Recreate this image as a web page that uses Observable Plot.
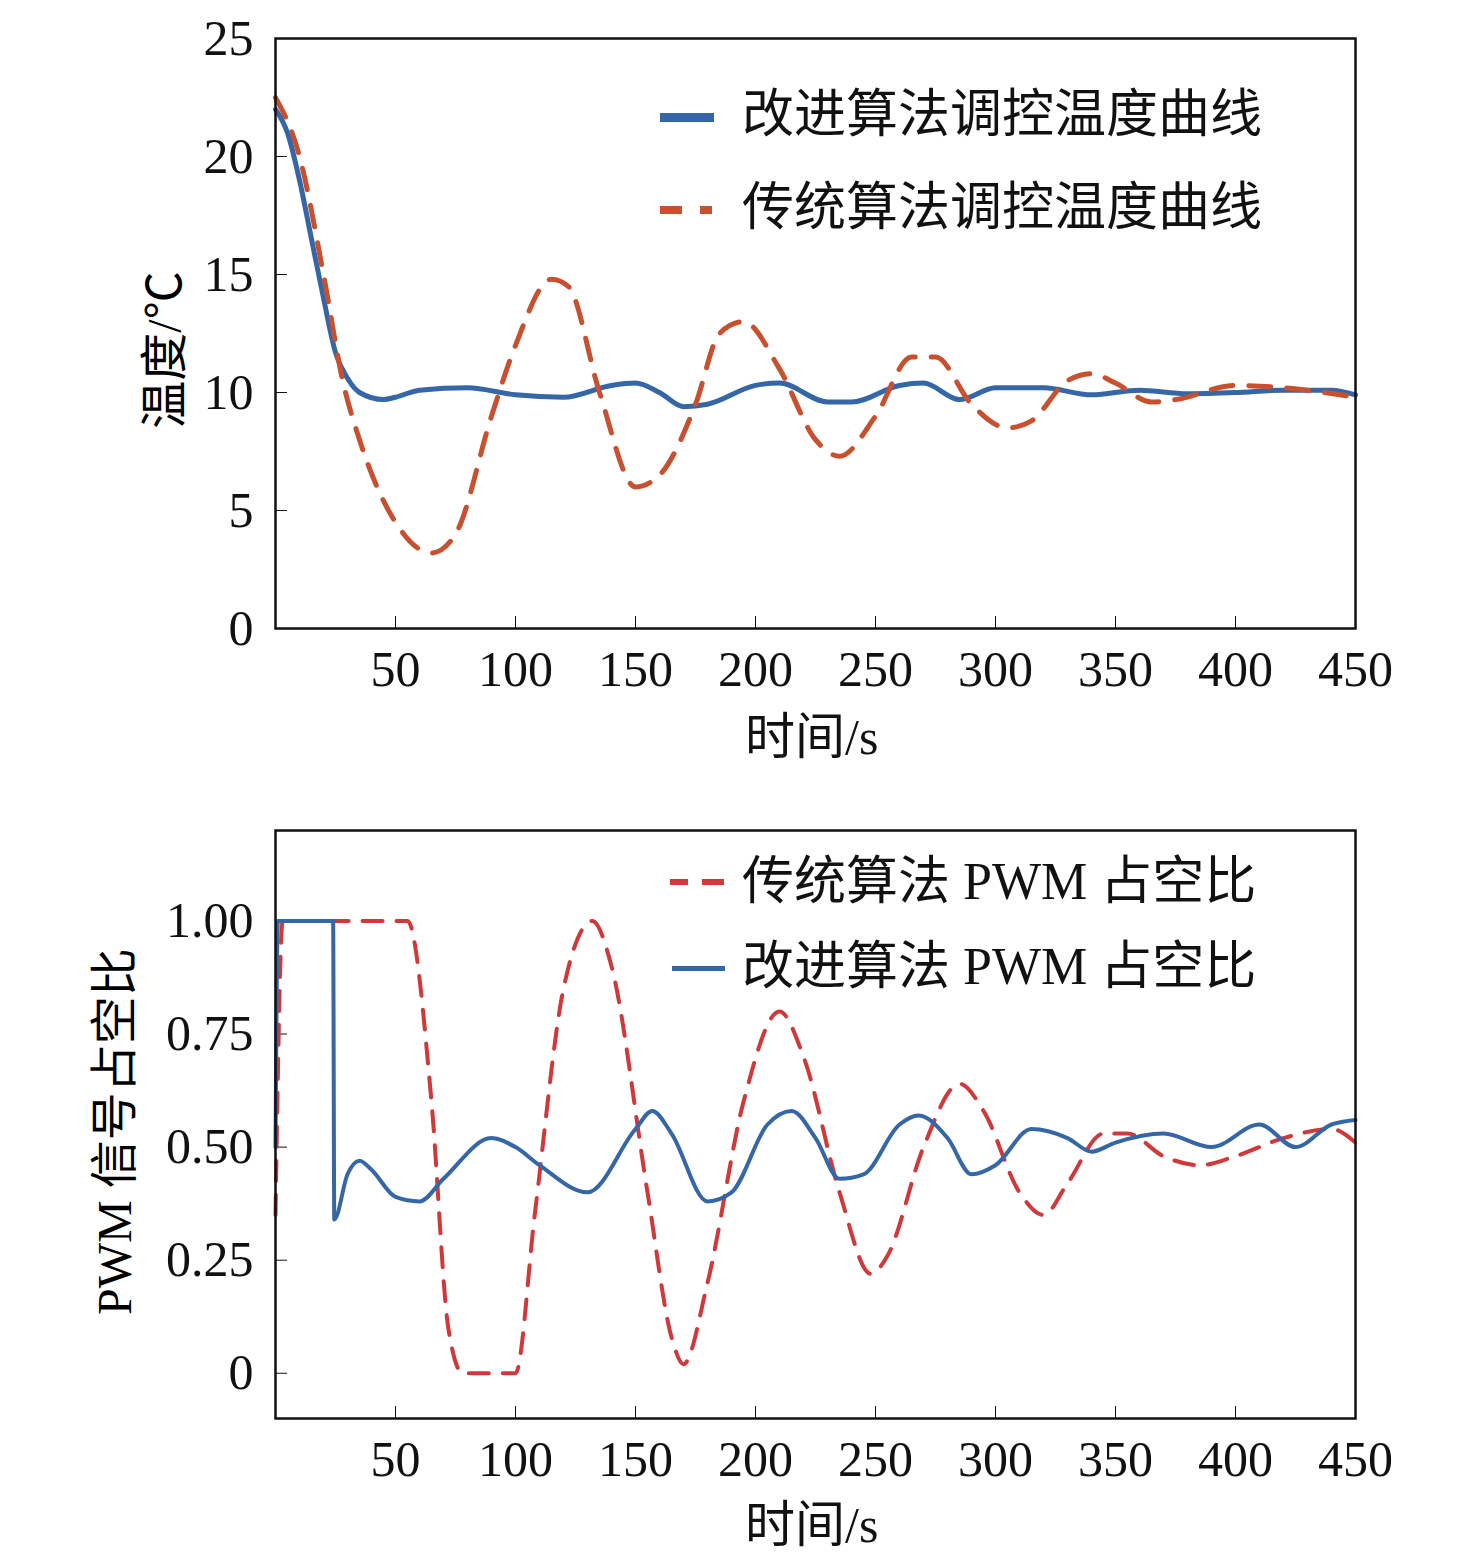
<!DOCTYPE html>
<html><head><meta charset="utf-8">
<script src="https://cdn.jsdelivr.net/npm/d3@7"></script>
<script src="https://cdn.jsdelivr.net/npm/@observablehq/plot@0.6"></script>
<style>
body{margin:0;background:#fff;font-family:"Liberation Serif","Noto Sans CJK SC",serif;}
#wrap{position:relative;width:1476px;height:1565px;}
.p{position:absolute;left:0;}
.lg{position:absolute;font-size:52px;color:#111;white-space:nowrap;line-height:1;}
.yl{position:absolute;font-size:48px;transform:rotate(-90deg);transform-origin:center;white-space:nowrap;}
</style></head><body><div id="wrap"></div>
<script>
const FONT='"Liberation Serif","Noto Sans CJK SC",serif';
const topImprovedT=[0,5,10,15,20,25,30,35,45,50,60,80,100,120,140,150,160,170,180,200,210,230,240,260,270,285,300,320,340,360,380,400,420,440,450];
const topImprovedV=[22,21,19,16.5,14,11.7,10.6,10,9.7,9.8,10.1,10.2,9.9,9.8,10.3,10.4,10,9.4,9.5,10.3,10.4,9.6,9.6,10.3,10.4,9.7,10.2,10.2,9.9,10.1,9.95,10,10.1,10.1,9.9];
const topTradT=[0,10,20,28,35,50,65,75,90,100,115,122,135,150,160,175,185,195,210,225,235,250,265,275,290,305,315,330,340,350,365,375,400,420,450];
const topTradV=[22.5,20,15,10.5,8,4.5,3.2,4,9,12,14.8,14.5,10,6,6.5,9.5,12.5,13,11,8,7.3,9,11.5,11.5,9.5,8.5,8.8,10.5,10.8,10.4,9.6,9.7,10.3,10.2,9.8];
const botTradT=[0,3,55,65,72,78,100,108,120,132,140,155,165,170,180,195,210,220,235,248,255,270,285,295,310,320,330,345,355,370,385,400,420,440,450];
const botTradV=[0.35,1,1,0.6,0.1,0,0,0.35,0.85,1,0.9,0.4,0.08,0.02,0.2,0.6,0.8,0.7,0.4,0.22,0.26,0.5,0.64,0.58,0.4,0.35,0.42,0.53,0.53,0.48,0.46,0.48,0.52,0.54,0.51];
const botImpT=[0,1,24,24.5,30,35,40,50,60,70,90,100,110,130,150,157,165,180,190,205,215,225,235,245,260,268,280,290,300,315,330,340,350,370,390,410,425,440,450];
const botImpV=[0.5,1,1,0.34,0.44,0.47,0.45,0.39,0.38,0.43,0.52,0.5,0.46,0.4,0.54,0.58,0.53,0.38,0.4,0.55,0.58,0.52,0.43,0.44,0.55,0.57,0.52,0.44,0.46,0.54,0.52,0.49,0.51,0.53,0.5,0.55,0.5,0.55,0.56];
const xTicks=[50,100,150,200,250,300,350,400,450];
const topYTicks=[0,5,10,15,20,25];
const botYTicks=[0,0.25,0.5,0.75,1];
const botYLabels=["0","0.25","0.50","0.75","1.00"];
const BLUE="#3566a8", RED1="#c9502f", RED2="#d0383a";
const zip=(t,v)=>t.map((x,i)=>({t:x,v:v[i]}));
const wrap=document.getElementById("wrap");
function mk(opts){
  return Plot.plot({width:1476,height:opts.h,marginLeft:275,marginRight:121,marginTop:opts.mt,marginBottom:opts.mb,
    style:{fontFamily:FONT,fontSize:"50px",color:"#111",background:"transparent"},
    x:{domain:[0,450]},y:{domain:opts.yd},
    marks:[
      Plot.axisX({ticks:xTicks,tickSize:-12,tickPadding:34,label:null,fontSize:50}),
      Plot.axisY({ticks:opts.yt,tickSize:-12,tickPadding:34,label:null,tickFormat:opts.fmt,fontSize:50}),
      ...opts.lines,
      Plot.frame({stroke:"#111",strokeWidth:2.5})
    ]});
}
const p1=mk({h:790,mt:38,mb:162,yd:[0,25],yt:topYTicks,fmt:d=>String(d),lines:[
  Plot.line(zip(topImprovedT,topImprovedV),{x:"t",y:"v",stroke:BLUE,strokeWidth:5,curve:"monotone-x"}),
  Plot.line(zip(topTradT,topTradV),{x:"t",y:"v",stroke:RED1,strokeWidth:5,strokeDasharray:"22,16",curve:"monotone-x"})]});
p1.classList.add("p");p1.style.top="0px";wrap.appendChild(p1);
const p2=mk({h:775,mt:40,mb:147,yd:[-0.1,1.2],yt:botYTicks,fmt:d=>botYLabels[botYTicks.indexOf(d)],lines:[
  Plot.line(zip(botTradT,botTradV),{x:"t",y:"v",stroke:RED2,strokeWidth:4,strokeDasharray:"20,14",curve:"monotone-x"}),
  Plot.line(zip(botImpT,botImpV),{x:"t",y:"v",stroke:BLUE,strokeWidth:4,curve:"monotone-x"})]});
p2.classList.add("p");p2.style.top="790px";wrap.appendChild(p2);
function add(html){wrap.insertAdjacentHTML("beforeend",html);}
add(`<div class="lg" style="left:745px;top:712px;font-size:50px">时间/s</div>`);
add(`<div class="lg" style="left:745px;top:1500px;font-size:50px">时间/s</div>`);
add(`<div class="yl" style="left:60px;top:315px;width:200px;text-align:center">温度/℃</div>`);
add(`<div class="yl" style="left:-60px;top:1110px;width:340px;text-align:center">PWM 信号占空比</div>`);
add(`<div style="position:absolute;left:660px;top:113px;width:54px;height:9px;background:${BLUE}"></div>`);
add(`<div class="lg" style="left:742px;top:89px">改进算法调控温度曲线</div>`);
add(`<div style="position:absolute;left:660px;top:206px;width:22px;height:8px;background:${RED1}"></div><div style="position:absolute;left:700px;top:206px;width:12px;height:8px;background:${RED1}"></div>`);
add(`<div class="lg" style="left:742px;top:182px">传统算法调控温度曲线</div>`);
add(`<div style="position:absolute;left:670px;top:879px;width:18px;height:6px;background:${RED2}"></div><div style="position:absolute;left:702px;top:879px;width:22px;height:6px;background:${RED2}"></div>`);
add(`<div class="lg" style="left:742px;top:856px">传统算法 PWM 占空比</div>`);
add(`<div style="position:absolute;left:672px;top:966px;width:53px;height:5px;background:${BLUE}"></div>`);
add(`<div class="lg" style="left:742px;top:941px">改进算法 PWM 占空比</div>`);
</script></body></html>
